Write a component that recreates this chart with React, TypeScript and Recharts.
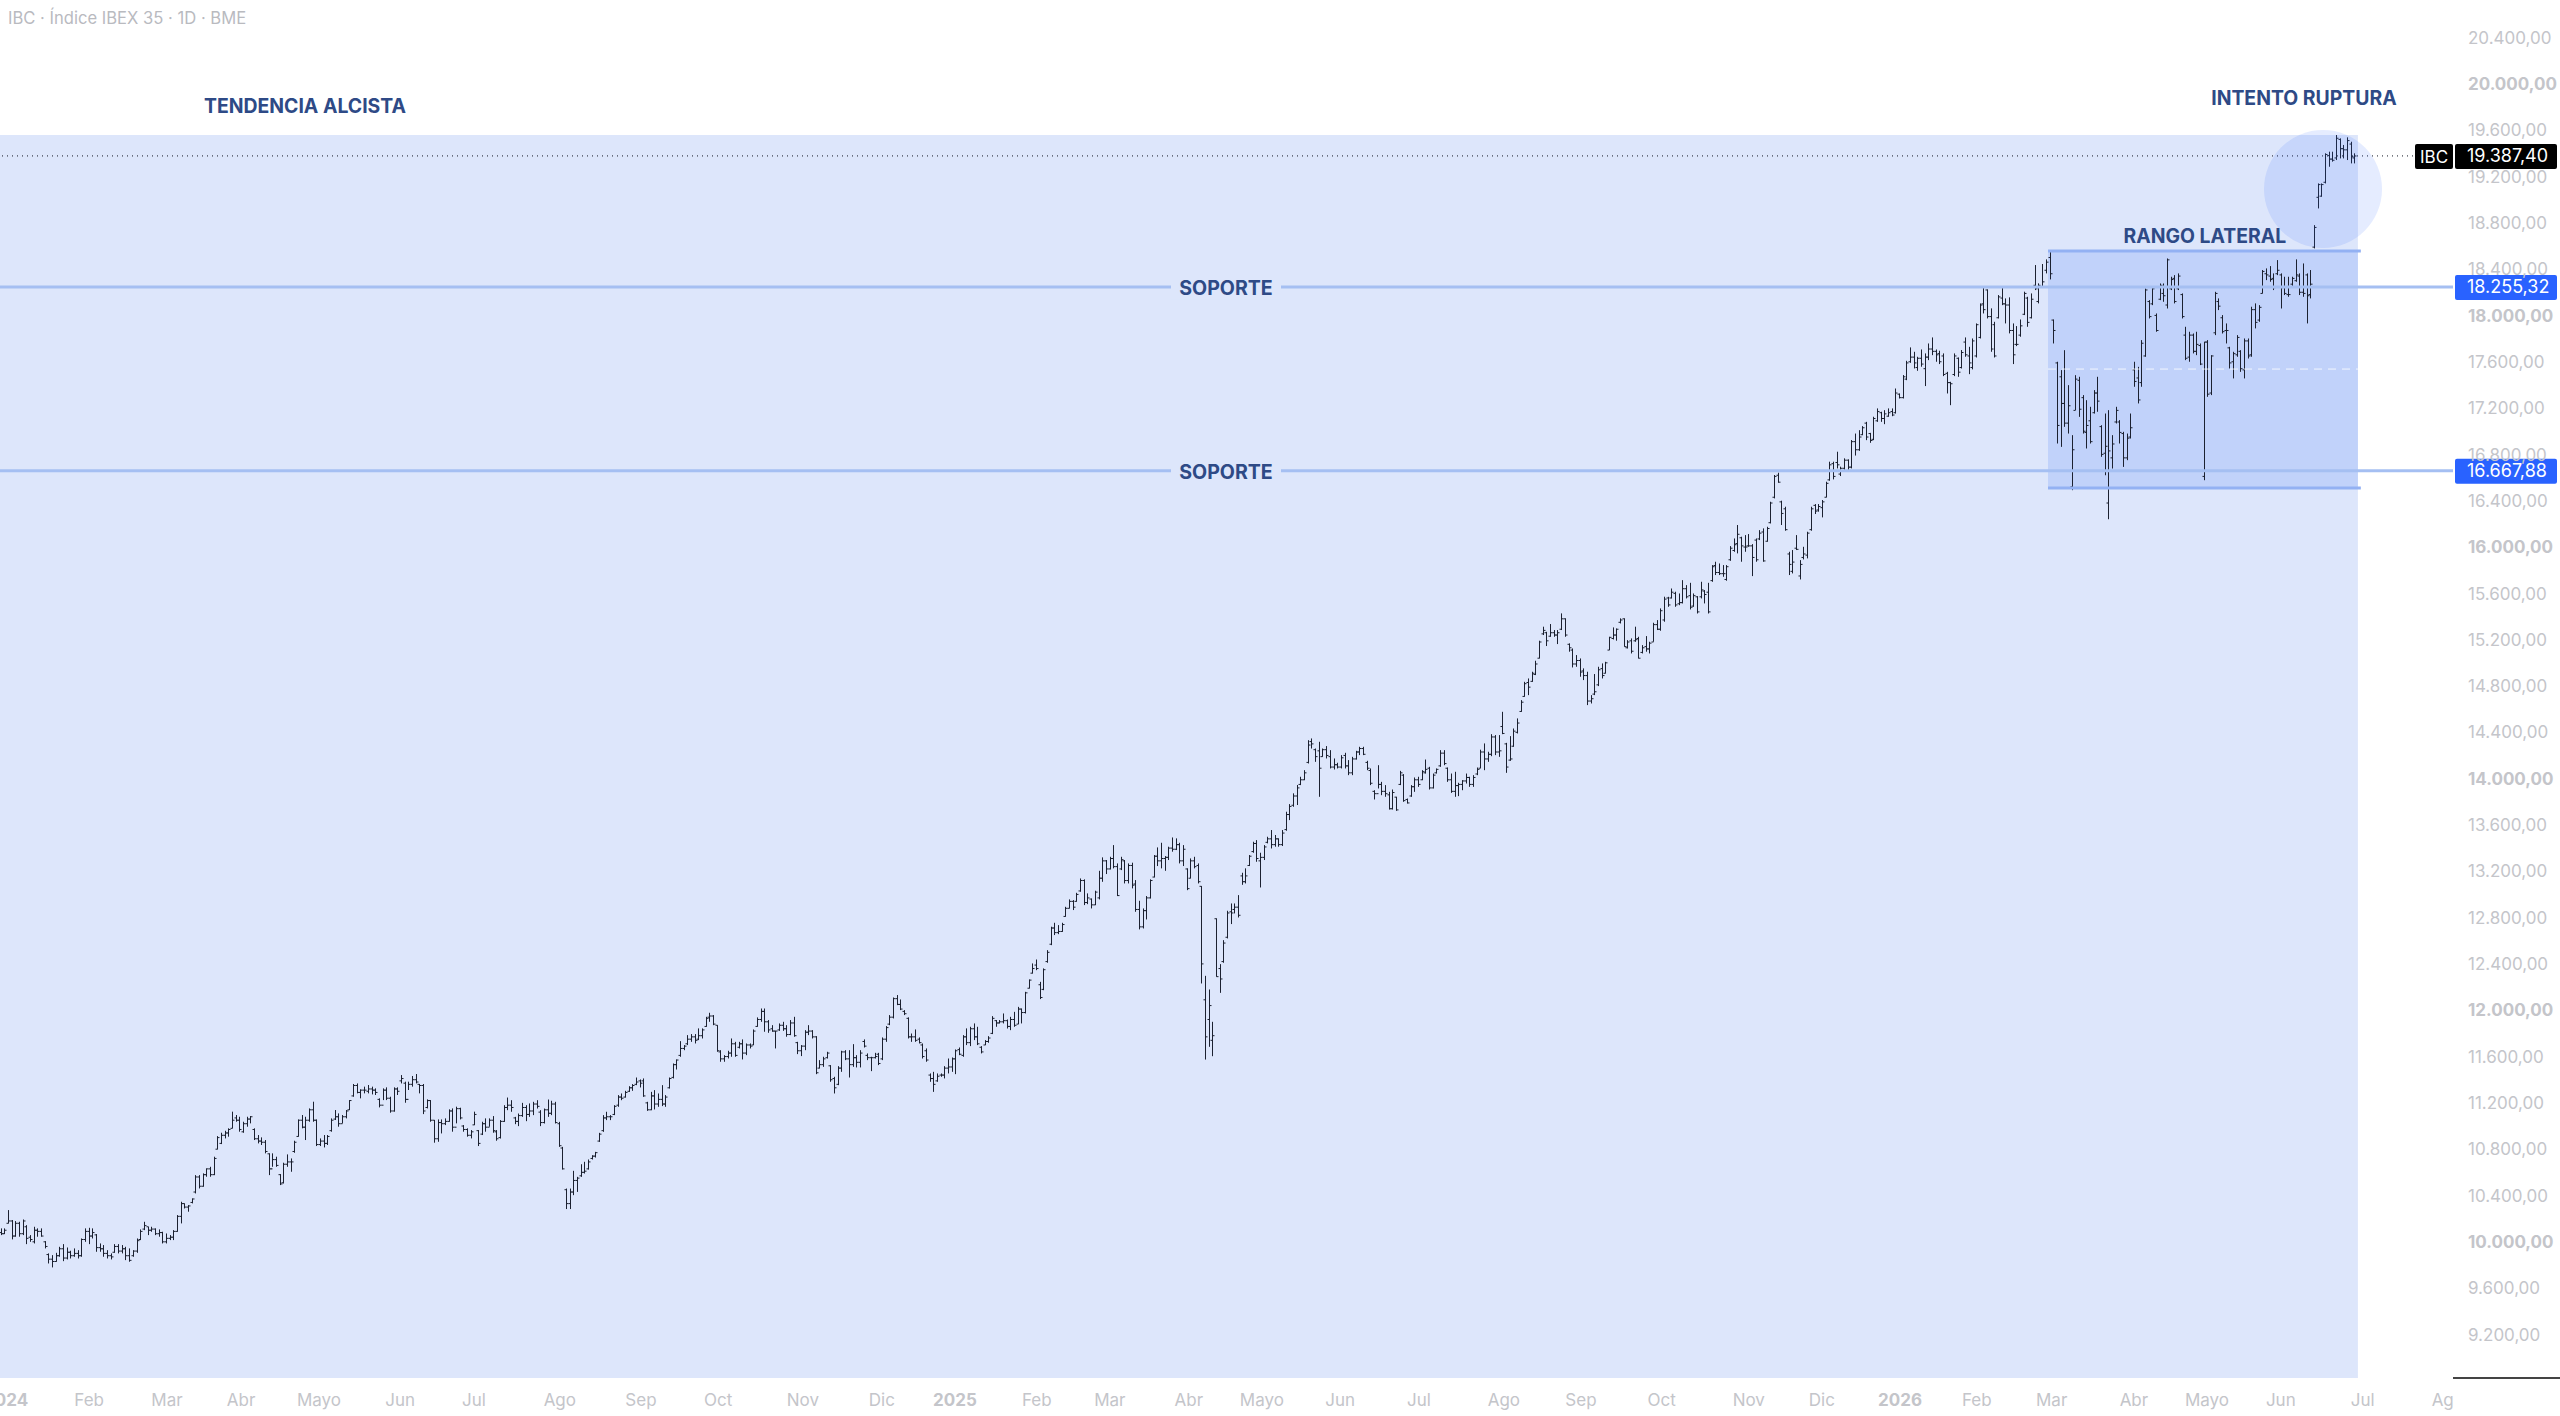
import { ComposedChart, Bar, XAxis, YAxis, ReferenceArea, ReferenceLine, ReferenceDot } from 'recharts'

// daily bars of IBC, 10 per row
const highs = [
  10126,10126,10284,10198,10189,10183,10203,10154,10068,10140,
  10126,10126,10016,9910,9895,9915,9967,9990,9961,9933,
  9953,9938,10039,10126,10131,10126,10077,9996,9982,9938,
  9910,9990,9990,9982,9967,9953,9938,10039,10117,10183,
  10140,10140,10126,10117,10097,10082,10068,10111,10241,10356,
  10342,10327,10385,10586,10586,10601,10644,10658,10745,10923,
  10952,10969,10990,11134,11105,11090,11047,11090,11096,10990,
  10932,10912,10889,10774,10774,10745,10595,10693,10765,10730,
  10883,11067,11105,11090,11162,11220,11067,10903,10932,10932,
  11076,11148,11119,11105,11148,11234,11373,11378,11327,11350,
  11364,11350,11335,11249,11335,11344,11263,11344,11344,11450,
  11393,11393,11442,11459,11373,11373,11240,11234,11062,11067,
  11067,11076,11154,11162,11177,11168,11018,10990,10975,11134,
  10975,11047,11076,11076,11096,10975,11061,11190,11256,11233,
  11089,11118,11210,11190,11205,11219,11233,11147,11161,11239,
  11228,11219,11046,10830,10470,10470,10623,10571,10680,10701,
  10721,10758,10787,10951,11104,11133,11104,11190,11277,11291,
  11314,11354,11372,11429,11412,11421,11219,11305,11320,11291,
  11363,11277,11429,11550,11585,11743,11709,11795,11804,11804,
  11853,11853,11953,11988,11968,11881,11665,11622,11660,11766,
  11737,11737,11758,11723,11723,11844,11948,12025,12025,11925,
  11881,11832,11896,11910,11881,11925,11953,11737,11709,11838,
  11881,11838,11786,11579,11608,11651,11536,11435,11527,11660,
  11665,11665,11717,11622,11665,11758,11637,11608,11642,11642,
  11775,11873,11968,12120,12141,12103,12011,11948,11809,11844,
  11775,11723,11680,11464,11478,11464,11464,11527,11593,11602,
  11671,11688,11795,11853,11867,11896,11867,11700,11752,11786,
  11959,11925,11925,11982,11930,11953,11996,12039,12025,12169,
  12276,12414,12448,12255,12371,12529,12731,12765,12745,12765,
  12903,12967,12961,13024,13148,13140,13019,12975,13042,13214,
  13330,13307,13335,13436,13278,13335,13307,13278,13284,13134,
  12955,12889,12996,13140,13350,13416,13456,13341,13422,13502,
  13494,13456,13436,13235,13321,13335,13278,13082,12307,12189,
  11910,12803,12408,12615,12869,12932,12932,13004,13197,13235,
  13350,13465,13479,13370,13436,13508,13566,13523,13494,13566,
  13724,13790,13883,13955,14026,14083,14342,14357,14270,14328,
  14270,14291,14256,14184,14147,14213,14233,14170,14198,14250,
  14285,14285,14164,14098,13910,14126,13982,13954,13896,13916,
  13853,14077,14049,13838,13954,14020,14026,14083,14175,14112,
  14054,14098,14256,14256,14106,14054,14069,13974,13997,14054,
  14026,14040,14106,14260,14314,14242,14394,14386,14386,14587,
  14319,14377,14443,14530,14688,14846,14875,14933,15028,15201,
  15322,15278,15345,15293,15293,15437,15394,15178,15134,15077,
  15048,14962,14933,14731,14913,14976,15005,15019,15235,15316,
  15307,15394,15394,15206,15221,15322,15235,15163,15241,15192,
  15356,15379,15480,15581,15580,15652,15624,15609,15724,15681,
  15701,15609,15586,15710,15638,15701,15854,15883,15868,15854,
  15854,16018,16084,16200,16099,16113,16122,16035,16084,16156,
  16171,16185,16401,16632,16652,16410,16358,15969,15984,16113,
  15897,16012,16142,16358,16381,16381,16416,16574,16747,16747,
  16833,16704,16776,16767,16934,16990,17019,17054,17091,16996,17135,
  17207,17178,17192,17207,17207,17379,17336,17495,17618,17734,
  17696,17653,17716,17682,17768,17820,17716,17705,17682,17523,
  17437,17682,17647,17711,17820,17739,17811,17941,18114,18258,
  18235,18071,17955,18186,18258,18157,18166,17941,17918,17975,
  18215,18171,18200,18445,18287,18454,18494,18569,17975,17610,
  17538,17710,17408,16976,17494,17480,17322,17278,17221,17365,
  17480,17062,17163,17192,16976,17221,17106,17005,16990,17163,
  17610,17566,17797,18243,18142,18258,18027,18286,18286,18502,
  18344,18358,18373,18200,17912,17869,17854,17869,17768,17782,
  17797,17667,18214,18157,18013,17941,17739,17696,17840,17710,
  17811,17811,18085,18114,18099,18402,18416,18436,18373,18488,
  18373,18344,18344,18344,18494,18373,18459,18373,18402,18790,
  19150,19150,19410,19424,19424,19568,19539,19482,19548,19510,
  19410,
]
const lows = [
  10068,10077,10169,10031,10054,10054,10068,9990,10010,9996,
  10054,10054,9953,9823,9789,9838,9881,9843,9858,9866,
  9881,9866,9881,10010,9990,10039,9924,9924,9881,9866,
  9858,9915,9910,9910,9852,9838,9881,9915,10025,10111,
  10068,10097,10068,10054,9996,9996,10025,10025,10097,10169,
  10298,10270,10342,10428,10471,10486,10572,10572,10586,10808,
  10854,10903,10918,10990,11047,10961,10952,11004,11033,10889,
  10860,10846,10774,10586,10658,10658,10500,10514,10658,10615,
  10779,10918,10990,10889,11047,11047,10837,10837,10825,10846,
  10961,11062,11004,11033,11076,11148,11263,11292,11249,11292,
  11292,11283,11278,11171,11234,11234,11125,11134,11278,11378,
  11211,11321,11350,11378,11292,11113,11162,11047,10866,10874,
  10946,11018,11047,10961,11033,11067,10961,10918,10903,11018,
  10837,10932,10961,11004,10952,10883,10902,11046,11147,11133,
  11026,11009,11089,11052,11089,11104,11161,11009,11032,11089,
  11104,11032,10830,10634,10293,10293,10413,10441,10571,10600,
  10634,10721,10738,10873,10960,11061,11061,11104,11176,11233,
  11256,11305,11314,11363,11343,11262,11141,11147,11153,11176,
  11182,11176,11334,11421,11498,11608,11665,11709,11737,11723,
  11752,11766,11867,11910,11881,11651,11565,11565,11593,11608,
  11608,11680,11585,11622,11680,11709,11867,11910,11824,11815,
  11824,11680,11832,11832,11781,11795,11781,11631,11614,11665,
  11795,11766,11458,11507,11521,11593,11392,11291,11363,11478,
  11579,11429,11521,11516,11516,11688,11579,11484,11593,11536,
  11579,11737,11881,11939,12054,12011,11968,11766,11737,11737,
  11723,11593,11565,11392,11305,11392,11435,11421,11464,11478,
  11458,11622,11608,11709,11700,11752,11709,11637,11709,11729,
  11804,11867,11896,11896,11852,11838,11867,11890,11896,11982,
  12198,12327,12356,12106,12183,12420,12572,12659,12667,12687,
  12817,12889,12875,12947,13033,12918,12926,12889,12918,12967,
  13119,13186,13226,13235,12996,13220,13105,13105,13062,12860,
  12708,12716,12794,12975,13157,13255,13235,13214,13307,13379,
  13393,13278,13255,13047,13148,13235,13105,12241,11584,11694,
  11613,12299,12160,12420,12630,12754,12846,12811,13093,13105,
  13255,13370,13292,13070,13307,13451,13407,13422,13422,13428,
  13560,13652,13767,13782,13954,13997,14141,14270,14155,13853,
  14198,14184,14098,14089,14098,14098,14098,14040,14040,14175,
  14213,14213,14083,13954,13830,13925,13867,13853,13743,13743,
  13732,13954,13810,13795,13853,13896,13939,13997,14054,13916,
  13925,14054,14112,14126,13982,13887,13853,13859,13910,13968,
  13939,13939,14040,14100,14083,14155,14204,14213,14198,14394,
  14060,14164,14285,14400,14587,14717,14731,14846,14904,15048,
  15250,15155,15235,15235,15172,15293,15235,15106,14970,14976,
  14890,14861,14645,14659,14731,14809,14875,14918,15120,15212,
  15201,15350,15149,15134,15091,15192,15048,15091,15106,15091,
  15192,15293,15287,15365,15494,15566,15494,15508,15523,15566,
  15471,15494,15436,15566,15523,15436,15710,15768,15768,15753,
  15719,15891,15969,15955,15883,15969,16012,15759,15883,16070,
  15883,16056,16214,16430,16565,16200,16151,15768,15782,15984,
  15730,15903,15912,16151,16295,16315,16266,16439,16583,16594,
  16689,16623,16675,16675,16689,16800,16841,16976,16933,16910,16933,
  17091,17091,17071,17135,17140,17163,17293,17293,17451,17601,
  17552,17532,17567,17400,17624,17667,17610,17590,17486,17336,
  17235,17486,17480,17552,17653,17503,17544,17647,17811,18027,
  17984,17696,17647,17984,18099,17941,17855,17590,17745,17826,
  18013,17912,17984,18229,18114,18252,18373,18321,17768,16904,
  16875,17048,16990,16501,17192,17134,16990,16861,16904,17163,
  17178,16789,16630,16250,16688,17077,16904,16702,16760,16947,
  17394,17250,17394,17653,17984,18099,17869,18142,18128,18070,
  18229,18114,18229,17984,17624,17610,17682,17667,17581,16587,
  17307,17322,17840,18056,17854,17768,17552,17466,17653,17523,
  17466,17638,17653,17898,17955,18200,18315,18301,18229,18358,
  18070,18186,18171,18258,18301,18186,18171,17941,18157,18589,
  18934,19035,19150,19294,19338,19352,19366,19366,19352,19323,
  19323,
]
const opens = [
  10090,10080,10170,10190,10060,10170,10080,10140,10050,10010,
  10110,10100,10010,9900,9860,9840,9890,9950,9870,9920,
  9890,9910,9890,10030,10100,10060,10070,9960,9950,9910,
  9890,9920,9970,9930,9950,9890,9890,9930,10030,10120,
  10140,10110,10120,10080,10090,10010,10040,10050,10100,10230,
  10340,10310,10350,10440,10570,10490,10590,10640,10590,10810,
  10860,10930,10950,10990,11080,11060,10960,11030,11070,10980,
  10900,10880,10870,10770,10640,10720,10590,10520,10680,10700,
  10790,10920,11060,11000,11060,11150,11060,10850,10880,10860,
  10970,11070,11090,11030,11090,11150,11270,11360,11300,11320,
  11310,11330,11320,11240,11190,11320,11250,11140,11330,11400,
  11380,11240,11370,11410,11370,11360,11170,11230,11060,10900,
  11040,11030,11050,11140,11000,11160,11010,10980,10930,11020,
  10970,10940,11030,11000,11060,10960,10910,11050,11170,11190,
  11080,11050,11100,11170,11110,11140,11200,11130,11040,11150,
  11120,11200,11030,10820,10460,10340,10440,10540,10580,10610,
  10640,10730,10750,10880,10970,11080,11090,11110,11190,11260,
  11260,11310,11340,11370,11400,11400,11210,11150,11270,11200,
  11240,11200,11340,11430,11540,11620,11680,11720,11760,11780,
  11760,11790,11870,11950,11960,11880,11650,11590,11610,11640,
  11720,11690,11720,11640,11710,11710,11870,11930,12000,11910,
  11850,11830,11840,11880,11850,11800,11900,11730,11660,11700,
  11820,11830,11780,11510,11540,11600,11530,11420,11370,11510,
  11650,11590,11540,11600,11560,11740,11620,11600,11600,11630,
  11590,11760,11890,11950,12110,12060,12000,11940,11780,11780,
  11760,11710,11660,11450,11420,11400,11450,11450,11510,11520,
  11590,11670,11620,11780,11730,11850,11780,11690,11710,11740,
  11810,11920,11900,11910,11920,11870,11930,11890,12020,11990,
  12200,12330,12400,12230,12190,12430,12580,12720,12680,12690,
  12820,12890,12950,12950,13040,13130,12940,12970,12920,12980,
  13150,13300,13230,13320,13250,13230,13300,13130,13260,13100,
  12880,12730,12870,12980,13160,13340,13300,13320,13330,13410,
  13400,13440,13300,13230,13150,13300,13260,13080,12100,11930,
  11750,12800,12370,12430,12640,12860,12880,12900,13170,13120,
  13260,13380,13450,13300,13330,13460,13490,13440,13490,13440,
  13570,13700,13780,13860,13960,14000,14150,14330,14260,14250,
  14200,14260,14200,14110,14130,14110,14210,14120,14060,14180,
  14240,14270,14150,14080,13900,13880,13960,13900,13870,13750,
  13850,13960,14040,13830,13860,13940,14000,14000,14060,14100,
  13930,14060,14120,14230,14100,14000,13900,13950,13960,13990,
  14020,13960,14050,14100,14240,14180,14220,14370,14240,14460,
  14310,14170,14290,14410,14590,14720,14840,14850,14910,15050,
  15260,15270,15240,15270,15250,15300,15390,15170,15120,15000,
  15030,14940,14900,14680,14740,14820,14960,14920,15120,15220,
  15250,15360,15390,15140,15200,15200,15220,15100,15150,15130,
  15190,15340,15300,15380,15570,15570,15610,15520,15530,15650,
  15590,15500,15580,15580,15630,15620,15720,15850,15790,15780,
  15730,15900,15980,16040,16090,16010,16020,16020,16070,16080,
  16140,16060,16220,16440,16630,16400,16340,15950,15800,16000,
  15760,15920,15940,16160,16370,16330,16350,16440,16590,16730,
  16740,16640,16690,16760,16700,16920,16850,16980,17080,16990,16940,
  17100,17170,17120,17140,17180,17170,17330,17300,17460,17610,
  17650,17560,17640,17550,17650,17720,17700,17680,17660,17510,
  17430,17500,17640,17560,17780,17660,17560,17660,17820,18110,
  18230,18000,17930,17990,18160,18110,18100,17880,17760,17840,
  18020,18160,17990,18270,18130,18260,18400,18510,17970,17600,
  17480,17250,17080,16530,17190,17450,17300,17000,17100,17170,
  17340,17050,16820,16390,16780,17090,17090,16990,16780,16960,
  17540,17470,17430,17660,18130,18110,18010,18150,18200,18100,
  18240,18330,18240,18190,17840,17650,17840,17700,17750,16620,
  17780,17340,17860,18130,17990,17880,17730,17610,17670,17700,
  17540,17790,17670,18060,17970,18200,18370,18350,18330,18370,
  18360,18260,18190,18280,18310,18350,18210,18360,18190,18600,
  19030,19040,19160,19390,19360,19370,19530,19450,19440,19490,
  19370,
]
const closes = [
  10080,10110,10190,10060,10170,10080,10190,10040,10030,10110,
  10100,10060,9970,9860,9840,9890,9950,9870,9920,9890,
  9910,9890,10030,10100,10060,10090,9960,9950,9910,9890,
  9880,9970,9930,9950,9890,9850,9930,10020,10100,10150,
  10110,10120,10080,10090,10010,10040,10050,10100,10230,10340,
  10310,10320,10380,10570,10490,10590,10640,10590,10730,10910,
  10930,10950,10980,11060,11060,10980,11030,11070,11090,10900,
  10880,10870,10790,10640,10720,10670,10510,10680,10700,10700,
  10870,11060,11000,11060,11150,11060,10850,10880,10860,10920,
  11060,11090,11030,11090,11140,11230,11360,11300,11320,11320,
  11330,11320,11300,11190,11320,11250,11140,11330,11310,11420,
  11240,11370,11410,11390,11360,11140,11230,11060,10900,11040,
  11030,11050,11140,11000,11160,11080,10980,10930,10960,11110,
  10860,11030,11000,11060,10970,10900,11050,11170,11190,11170,
  11050,11100,11170,11110,11140,11200,11180,11040,11150,11120,
  11200,11040,10840,10640,10340,10440,10540,10560,10610,10620,
  10700,10750,10780,10940,11080,11090,11090,11180,11260,11250,
  11300,11340,11360,11390,11380,11270,11150,11270,11200,11240,
  11200,11260,11420,11540,11580,11680,11700,11760,11780,11750,
  11790,11840,11940,11960,11890,11660,11590,11610,11640,11720,
  11620,11720,11640,11710,11700,11830,11930,12000,11910,11840,
  11830,11830,11880,11850,11800,11900,11790,11660,11700,11820,
  11830,11780,11470,11540,11590,11640,11410,11340,11510,11650,
  11590,11540,11600,11560,11640,11700,11600,11600,11610,11550,
  11760,11860,11950,12110,12060,12020,11980,11780,11780,11750,
  11730,11610,11580,11420,11370,11440,11450,11510,11520,11590,
  11660,11630,11780,11730,11850,11780,11720,11650,11740,11770,
  11940,11900,11910,11920,11870,11930,11880,12020,11990,12160,
  12270,12370,12370,12120,12360,12510,12720,12680,12690,12750,
  12890,12950,12900,13010,13130,12940,12980,12920,13030,13150,
  13300,13230,13320,13250,13000,13310,13130,13260,13090,12880,
  12730,12870,12980,13130,13340,13300,13320,13330,13410,13400,
  13440,13300,13400,13060,13300,13250,13120,12410,11780,12050,
  11790,12300,12280,12590,12850,12850,12900,12830,13120,13170,
  13340,13450,13320,13330,13420,13490,13440,13490,13440,13540,
  13700,13770,13860,13930,14000,14060,14300,14310,14200,14100,
  14260,14210,14110,14130,14110,14190,14120,14060,14180,14240,
  14270,14220,14100,13970,13880,13960,13900,13880,13750,13890,
  13740,14060,13820,13800,13940,14000,13960,14070,14090,13930,
  14040,14090,14230,14140,14000,13900,13950,13960,13990,14020,
  13960,14020,14090,14240,14180,14220,14370,14240,14250,14400,
  14110,14180,14420,14490,14670,14830,14800,14920,15000,15190,
  15290,15200,15270,15250,15270,15390,15250,15140,15000,15030,
  14930,14900,14680,14700,14760,14950,14900,15010,15230,15250,
  15300,15380,15150,15190,15110,15210,15050,15140,15130,15180,
  15340,15300,15460,15560,15510,15620,15510,15530,15650,15580,
  15490,15590,15450,15640,15600,15450,15840,15790,15780,15780,
  15840,16000,16030,16120,16020,16010,16020,15920,15900,16130,
  15890,16170,16390,16620,16570,16300,16160,15860,15880,15990,
  15860,15950,16130,16340,16320,16360,16400,16560,16720,16620,
  16720,16690,16760,16700,16920,16850,16960,17040,16960,16930,17120,
  17180,17120,17160,17170,17150,17340,17300,17480,17600,17650,
  17600,17640,17590,17650,17720,17700,17670,17610,17500,17430,
  17420,17660,17520,17690,17670,17600,17790,17930,18100,18060,
  18000,17720,17660,18170,18110,18100,17880,17670,17760,17920,
  18200,17950,18150,18240,18270,18300,18470,18370,17880,17060,
  17250,17080,17230,16850,17460,17200,17010,17060,16920,17340,
  17270,16810,16880,16840,16900,17190,17000,16780,16950,17040,
  17440,17280,17770,18230,18000,18240,17880,18270,18180,18490,
  18320,18130,18350,18000,17640,17840,17700,17760,17590,17780,
  17330,17660,18200,18090,17870,17880,17600,17680,17820,17550,
  17790,17660,18060,17950,18080,18390,18360,18320,18250,18400,
  18250,18200,18190,18330,18360,18210,18200,18180,18280,18770,
  19140,19140,19400,19360,19350,19540,19450,19440,19520,19380,
  19387,
]

const priceTicks = [9200,9600,10000,10400,10800,11200,11600,12000,12400,12800,13200,13600,14000,14400,14800,15200,15600,16000,16400,16800,17200,17600,18000,18400,18800,19200,19600,20000,20400]
const monthLabels = ['2024','Feb','Mar','Abr','Mayo','Jun','Jul','Ago','Sep','Oct','Nov','Dic','2025','Feb','Mar','Abr','Mayo','Jun','Jul','Ago','Sep','Oct','Nov','Dic','2026','Feb','Mar','Abr','Mayo','Jun','Jul','Ag']
const monthTicks = [1.4,24,45.2,65.4,86.6,108.7,128.8,152.2,174.3,195.3,218.4,239.9,259.8,282.1,302,323.5,343.4,364.7,386.2,409.3,430.3,452.3,476,495.9,517.2,538.1,558.5,580.9,600.8,620.9,643.2,665]

const lastPrice = 19387.4
const supportHigh = 18255.32
const supportLow = 16667.88

const data = highs.map((h, i) => ({ i, high: h, low: lows[i], open: opens[i], close: closes[i] }))

const FONT = 'Inter, "Noto Sans", sans-serif'
const NAVY = '#2E4A86'
const GREY = '#C4C5CA'

const fmt = (v: number, dec = 2) => {
  const [a, b] = v.toFixed(dec).split('.')
  return a.replace(/\B(?=(\d{3})+$)/g, '.') + ',' + b
}

function OhlcBar(props: any) {
  const { x, y, width, height, payload } = props
  const cx = Math.round(x + width / 2) + 0.5
  const k = height / (payload.high - payload.low)
  const yo = y + (payload.high - payload.open) * k
  const yc = y + (payload.high - payload.close) * k
  return (
    <g stroke="#1c2130" strokeWidth={1} fill="none">
      <line x1={cx} x2={cx} y1={y} y2={y + height} />
      <line x1={cx - 2} x2={cx} y1={yo} y2={yo} />
      <line x1={cx} x2={cx + 2} y1={yc} y2={yc} />
    </g>
  )
}

function PriceTick({ y, payload }: any) {
  const bold = payload.value % 2000 === 0
  return (
    <text x={2468} y={y + 5} fontFamily={FONT} fontSize={17} fontWeight={bold ? 700 : 400} fill={GREY}>
      {fmt(payload.value)}
    </text>
  )
}

function MonthTick({ x, y, index }: any) {
  const label = monthLabels[index]
  const bold = /^\d/.test(label)
  return (
    <text x={x} y={y + 20} textAnchor="middle" fontFamily={FONT} fontSize={17} fontWeight={bold ? 700 : 400} fill={GREY}>
      {label}
    </text>
  )
}

function SupportLabel({ viewBox, value }: any) {
  const y = viewBox.y
  return (
    <g>
      <rect x={1171} y={y - 12} width={110} height={24} fill="#DDE6FB" />
      <text x={1226} y={y + 8} textAnchor="middle" fontFamily={FONT} fontSize={19.6} fontWeight={700} fill={NAVY}>SOPORTE</text>
      <rect x={2455} y={y - 12} width={102} height={25} rx={2} fill="#2962FF" />
      <text x={2467} y={y + 6} fontFamily={FONT} fontSize={18} fill="#fff">{fmt(value)}</text>
    </g>
  )
}

function LastLabel({ viewBox }: any) {
  const y = viewBox.y
  return (
    <g>
      <rect x={2415} y={y - 12} width={38} height={25} rx={2} fill="#000" />
      <text x={2420} y={y + 7} fontFamily={FONT} fontSize={17} fill="#fff">IBC</text>
      <rect x={2455} y={y - 12} width={102} height={25} rx={2} fill="#000" />
      <text x={2467} y={y + 6} fontFamily={FONT} fontSize={18} fill="#fff">{fmt(lastPrice)}</text>
    </g>
  )
}

const note = (value: string) => ({ value, position: 'center' as const, fill: NAVY, fontSize: 19.4, fontWeight: 700, fontFamily: FONT })

export default function App() {
  return (
    <div style={{ position: 'absolute', left: 0, top: 0, width: 2560, height: 1416, overflow: 'hidden', background: '#fff' }}>
      <ComposedChart width={2560} height={1416} data={data} margin={{ top: 0, right: 0, bottom: 0, left: 0 }} barSize={1}>
        <XAxis
          dataKey="i"
          type="number"
          domain={[-0.27, 667.8]}
          allowDataOverflow
          ticks={monthTicks}
          interval={0}
          height={38}
          axisLine={false}
          tickLine={false}
          tick={<MonthTick />}
        />
        <YAxis
          orientation="right"
          type="number"
          domain={[8834, 20734]}
          allowDataOverflow
          ticks={priceTicks}
          interval={0}
          width={107}
          axisLine={false}
          tickLine={false}
          tick={<PriceTick />}
        />
        {/* trend zone, sideways range and breakout circle */}
        <ReferenceArea x1={-0.27} x2={641.9} y1={8834} y2={19568} fill="#DDE6FB" fillOpacity={1} stroke="none" />
        <ReferenceArea x1={557.5} x2={641.9} y1={16520} y2={18566} fill="#C1D2FA" fillOpacity={1} stroke="none" />
        <ReferenceDot x={632.4} y={19102} r={59} fill="#2962FF" fillOpacity={0.12} stroke="none" ifOverflow="visible" />
        <ReferenceLine segment={[{ x: 557.5, y: 18566 }, { x: 642.7, y: 18566 }]} stroke="#93B1F3" strokeWidth={3} />
        <ReferenceLine segment={[{ x: 557.5, y: 16520 }, { x: 642.7, y: 16520 }]} stroke="#93B1F3" strokeWidth={3} />
        <ReferenceLine segment={[{ x: 557.5, y: 17547 }, { x: 641.9, y: 17547 }]} stroke="#fff" strokeOpacity={0.8} strokeDasharray="8 6" />
        <ReferenceLine y={lastPrice} stroke="#131722" strokeDasharray="1 4" label={<LastLabel />} />
        <ReferenceLine y={supportHigh} stroke="#A5BFF2" strokeWidth={3} label={<SupportLabel value={supportHigh} />} />
        <ReferenceLine y={supportLow} stroke="#A5BFF2" strokeWidth={3} label={<SupportLabel value={supportLow} />} />
        <Bar dataKey={(d: any) => [d.low, d.high]} shape={<OhlcBar />} isAnimationActive={false} />
        <ReferenceDot x={82.8} y={19819} r={0} ifOverflow="visible" label={note('TENDENCIA ALCISTA')} />
        <ReferenceDot x={627.2} y={19888} r={0} ifOverflow="visible" label={note('INTENTO RUPTURA')} />
        <ReferenceDot x={600.2} y={18696} r={0} ifOverflow="visible" label={note('RANGO LATERAL')} />
      </ComposedChart>
      <div style={{ position: 'absolute', left: 8, top: 8, fontFamily: FONT, fontSize: 16.6, color: '#B9BABF', whiteSpace: 'nowrap' }}>
        IBC · Índice IBEX 35 · 1D · BME
      </div>
      <div style={{ position: 'absolute', left: 2453, top: 1377, width: 107, height: 2, background: '#444' }} />
    </div>
  )
}
